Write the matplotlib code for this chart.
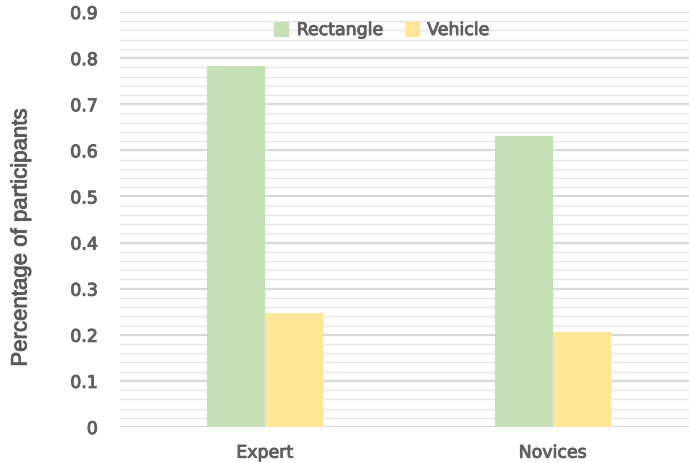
import matplotlib.pyplot as plt
import matplotlib.patheffects as pe
import numpy as np
from matplotlib.patches import Patch

# data
groups = ["Expert", "Novices"]
rectangle = [0.783, 0.632]
vehicle = [0.248, 0.207]
series_names = ["Rectangle", "Vehicle"]
yticks = [0, 0.1, 0.2, 0.3, 0.4, 0.5, 0.6, 0.7, 0.8, 0.9]
ytick_labels = ["0", "0.1", "0.2", "0.3", "0.4", "0.5", "0.6", "0.7", "0.8", "0.9"]

green = "#c5e0b4"
yellow = "#ffe699"
txt = "#606060"

fig = plt.figure(figsize=(6.89, 4.64), dpi=100)
ax = fig.add_axes([120/689, 36/464, (689-120)/689, 415/464])

x = np.arange(len(groups))
w = 0.2
ax.bar(x - w/2, rectangle, w, color=green, zorder=3)
ax.bar(x + w/2, vehicle, w, color=yellow, zorder=3)

ax.set_xlim(-0.503, 1.472)
ax.set_ylim(0, 0.9)

# light grid, major every 0.1 and minor every 0.02
for v in np.arange(0, 0.9001, 0.02):
    major = abs(v*10 - round(v*10)) < 1e-6
    ax.axhline(v, color="#d9d9d9" if major else "#e6e6e6",
               lw=1.6 if major else 1.0, zorder=1)

for s in ax.spines.values():
    s.set_visible(False)

# regular face with a thin stroke to look semibold
fx = [pe.withStroke(linewidth=0.7, foreground=txt)]
fnt = {"family": "DejaVu Sans", "size": 12.5}
ax.set_yticks(yticks)
ax.set_yticklabels(ytick_labels, color=txt, path_effects=fx, **fnt)
ax.set_xticks(x)
ax.set_xticklabels(groups, color=txt, path_effects=fx, **fnt)
ax.tick_params(length=0, pad=12)
ax.tick_params(axis="y", pad=16)

fig.text(21/689, 1 - 238/464, "Percentage of participants", rotation=90,
         ha="center", va="center", fontsize=16, color="#595959",
         fontfamily="Liberation Sans",
         path_effects=[pe.withStroke(linewidth=0.6, foreground="#595959")])

handles = [Patch(color=green), Patch(color=yellow)]
leg = fig.legend(handles, series_names, loc="center", bbox_to_anchor=(382/689, 1 - 31/464),
                 ncol=2, frameon=False, handlelength=0.8, handleheight=0.8,
                 handletextpad=0.5, columnspacing=1.2, prop=fnt)
for t in leg.get_texts():
    t.set_color(txt)
    t.set_path_effects(fx)

fig.savefig("out.png", dpi=100)
